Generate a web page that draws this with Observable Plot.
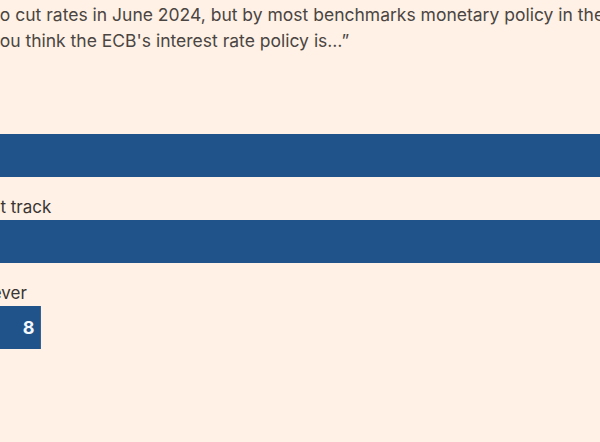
<!DOCTYPE html>
<html>
<head>
<meta charset="utf-8">
<script src="https://cdn.jsdelivr.net/npm/d3@7"></script>
<script src="https://cdn.jsdelivr.net/npm/@observablehq/plot@0.6"></script>
<style>
  html, body { margin: 0; padding: 0; background: #fff1e5; width: 600px; height: 442px; overflow: hidden; }
  #head { position: relative; height: 60px; overflow: hidden; font-family: Inter, sans-serif; font-size: 17.5px; color: #4a4542; }
  .line { position: absolute; white-space: nowrap; line-height: 27px; }
  #chart svg { display: block; }
</style>
</head>
<body>
<div id="head"></div>
<div id="chart"></div>
<script>
// Subtitle text (the reference shows a crop of the chart, so the start of each line is off to the left)
const subtitleLines = [
  "“The ECB started to cut rates in June 2024, but by most benchmarks monetary policy in the eurozone",
  "is still restrictive. Do you think the ECB's interest rate policy is…”"
];
const subtitleHidden = ["“The ECB started t", "is still restrictive. Do y"];

// Survey answers (%)
const categories = ["Too tight", "On the right track", "Easy, however"];
const values = [46, 46, 8];

const data = categories.map((c, i) => ({category: c, value: values[i]}));

// subtitle
const head = document.getElementById("head");
const ctx = document.createElement("canvas").getContext("2d");
ctx.font = "17.5px Inter";
subtitleLines.forEach((t, i) => {
  const s = document.createElement("div");
  s.className = "line";
  s.textContent = t;
  s.style.top = (1 + i * 26) + "px";
  s.style.left = (-ctx.measureText(subtitleHidden[i]).width) + "px";
  head.appendChild(s);
});

const chart = Plot.plot({
  width: 600,
  height: 382,
  marginTop: 52.5,
  marginBottom: 71.5,
  x: {domain: [0, 50], range: [-89.5, 725.5], axis: null},
  y: {domain: categories, axis: null, paddingInner: 0.5, paddingOuter: 0.25},
  style: {background: "transparent", fontFamily: "Inter, sans-serif", fontSize: "17px"},
  marks: [
    Plot.barX(data, {x: "value", y: "category", fill: "#20538a"}),
    Plot.text(data, {x: 0, y: "category", text: "category", textAnchor: "start", dy: -34.5, fill: "#3a3532", fontSize: 17}),
    Plot.text(data, {x: "value", y: "category", text: d => String(d.value), textAnchor: "end", dx: -7, fill: "#f4f8ff", fontWeight: "bold", fontSize: 18})
  ]
});
document.getElementById("chart").appendChild(chart);
</script>
</body>
</html>
